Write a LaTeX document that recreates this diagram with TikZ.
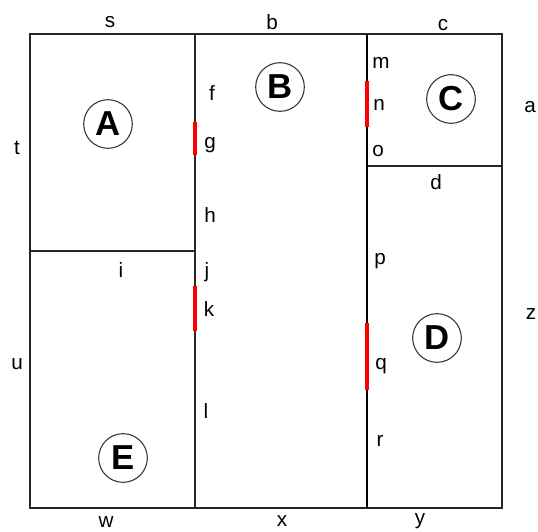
\documentclass[tikz,border=0pt]{standalone}
\usepackage{fontspec}
\setmainfont{Liberation Sans}

\begin{document}
\begin{tikzpicture}%
        [x=0.75pt,
        y=-0.75pt,
        room/.style={draw=black!85, line width=1pt},
        wall/.style={draw=black, line width=1.9pt},
        door/.style={draw=red, line width=3.3pt},
        tag/.style={inner sep=0pt, font=\fontsize{15.5}{18}\selectfont},
        badge/.style={circle, draw=black!80, line width=0.8pt, minimum size=36.5pt, inner sep=0pt, font=\fontsize{26}{30}\selectfont\bfseries}]
%
\useasboundingbox (0,0) rectangle (538,531);
%
%% Coordinate of the corners:
%%
\coordinate (top-l) at (30,34);
\coordinate (top-ab) at (195,34);
\coordinate (top-bc) at (367,34);
\coordinate (top-r) at (502,34);
\coordinate (mid-ae) at (30,251);
\coordinate (mid-ae-r) at (195,251);
\coordinate (mid-cd) at (367,166);
\coordinate (mid-cd-r) at (502,166);
\coordinate (bot-l) at (30,508);
\coordinate (bot-eb) at (195,508);
\coordinate (bot-bd) at (367,508);
\coordinate (bot-r) at (502,508);
%%
%%
%% Drawing the rooms
%%
\draw[room] (top-l) rectangle (mid-ae-r);
\draw[room] (mid-ae) rectangle (bot-eb);
\draw[room] (top-ab) rectangle (bot-bd);
\draw[room] (top-bc) rectangle (mid-cd-r);
\draw[room] (mid-cd) rectangle (bot-r);
\draw[wall] (top-bc) -- (bot-bd);
%%
%%
%% Drawing the doors
%%
\draw[door] (195,122) -- (195,155);
\draw[door] (195,286) -- (195,331);
\draw[door] (367,81) -- (367,127);
\draw[door] (367,323) -- (367,390);
%%
%%
%% Drawing the room names
%%
\node[badge] (A) at (108,124) {A};
\node[badge] (B) at (280,87)  {B};
\node[badge] (C) at (451,99)  {C};
\node[badge] (D) at (437,338) {D};
\node[badge] (E) at (123,458) {E};
%%
%%
%% Drawing the labels outside
%%
\node[tag] (s) at (110,22)  {s};
\node[tag] (b) at (272,22)  {b};
\node[tag] (c) at (443,25)  {c};
\node[tag] (a) at (530,107) {a};
\node[tag] (t) at (17,148)  {t};
\node[tag] (u) at (17,364)  {u};
\node[tag] (z) at (531,314) {z};
\node[tag] (w) at (106,522) {w};
\node[tag] (x) at (282,521) {x};
\node[tag] (y) at (420,521) {y};
%%
%%
%% Drawing the labels inside
%%
\node[tag] (f) at (212,93)  {f};
\node[tag] (g) at (210,145) {g};
\node[tag] (h) at (210,215) {h};
\node[tag] (i) at (121,270) {i};
\node[tag] (j) at (207,272) {j};
\node[tag] (k) at (209,309) {k};
\node[tag] (l) at (206,411) {l};
\node[tag] (m) at (381,63)  {m};
\node[tag] (n) at (379,105) {n};
\node[tag] (o) at (378,151) {o};
\node[tag] (d) at (436,182) {d};
\node[tag] (p) at (380,261) {p};
\node[tag] (q) at (381,366) {q};
\node[tag] (r) at (380,441) {r};
%%
\end{tikzpicture}
\end{document}
